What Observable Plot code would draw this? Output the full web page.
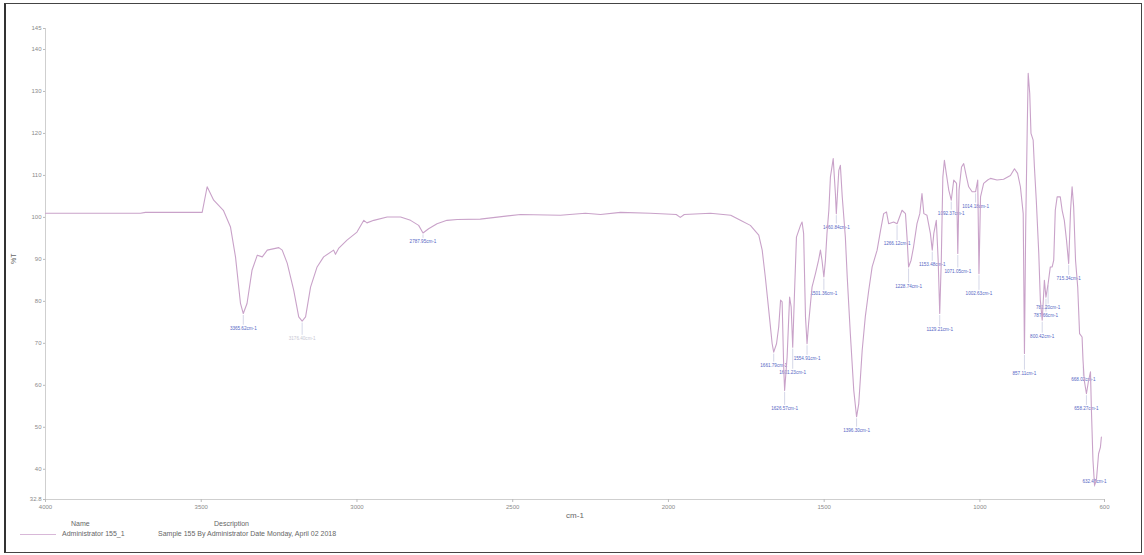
<!DOCTYPE html>
<html><head><meta charset="utf-8">
<script src="https://cdn.jsdelivr.net/npm/d3@7"></script>
<script src="https://cdn.jsdelivr.net/npm/@observablehq/plot@0.6"></script>
<style>
body{margin:0;background:#fff;font-family:"Liberation Sans",Arial,sans-serif;}
#wrap{position:relative;width:1144px;height:555px;overflow:hidden;background:#fff;}
#frame{position:absolute;left:4px;top:3px;width:1138px;height:550px;border:1px solid #444;border-left:2px solid #333;box-sizing:border-box;pointer-events:none;}
#chart{position:absolute;left:0;top:0;}
.lg{position:absolute;font-size:7px;color:#666;white-space:nowrap;line-height:8px;}
#lgline{position:absolute;left:20px;top:534px;width:36px;height:0;border-top:1px solid #d8b8d8;}
</style></head><body>
<div id="wrap"><div id="chart"></div><div id="frame"></div>
<div class="lg" style="left:71px;top:520px">Name</div>
<div class="lg" style="left:214px;top:520px">Description</div>
<div id="lgline"></div>
<div class="lg" style="left:62px;top:530px">Administrator 155_1</div>
<div class="lg" style="left:158px;top:530px">Sample 155 By Administrator Date Monday, April 02 2018</div>
</div>
<script>
// Spectrum (wavenumber cm-1, %T)
const wavenumbers = [4000,3695,3679,3497,3481,3460,3429,3406,3390,3374,3365,3353,3337,3320,3304,3288,3251,3240,3224,3203,3187,3176,3165,3149,3128,3107,3075,3069,3059,3032,3000,2978,2968,2946,2903,2860,2828,2802,2788,2770,2743,2711,2678,2604,2475,2347,2267,2218,2154,2058,1975,1962,1949,1865,1800,1769,1737,1710,1699,1689,1678,1667,1662,1653,1646,1640,1635,1630,1627,1619,1611,1606,1601,1595,1589,1576,1571,1566,1560,1555,1550,1539,1528,1518,1512,1507,1501,1496,1491,1485,1480,1471,1464,1461,1453,1448,1442,1432,1426,1416,1405,1396,1389,1378,1368,1357,1346,1330,1319,1309,1300,1293,1277,1266,1250,1239,1234,1229,1221,1213,1202,1193,1186,1180,1170,1159,1153,1148,1140,1134,1129,1124,1119,1114,1108,1100,1092,1084,1075,1071,1067,1059,1052,1043,1036,1025,1014,1007,1003,998,988,975,966,945,924,902,889,879,870,861,857,853,848,845,840,836,829,825,819,811,806,800,793,788,781,774,768,763,758,752,742,736,729,722,715,709,704,699,693,686,680,672,669,665,658,651,645,642,637,632,626,619,613,610];
const transmittance = [101.0,101.0,101.2,101.2,107.3,104.1,101.7,97.7,90.6,79.5,77.1,79.5,87.4,91.0,90.6,92.2,92.8,92.2,89.1,82.6,76.3,75.3,76.3,83.4,88.2,90.6,92.2,91.2,92.6,94.6,96.5,99.3,98.7,99.3,100.1,100.1,99.3,98.1,96.3,97.3,98.5,99.3,99.5,99.6,100.7,100.5,101.0,100.7,101.2,101.0,100.7,100.0,100.7,101.0,100.5,99.3,98.1,95.8,92.2,85.8,77.9,69.9,67.9,69.9,73.9,80.3,79.9,64.4,58.8,66.7,81.0,78.7,69.1,82.6,95.3,98.1,98.9,96.2,76.3,69.9,74.7,83.4,86.6,89.8,92.2,89.8,85.8,89.8,96.2,101.7,109.6,114.0,105.7,100.9,111.2,112.4,104.9,95.3,85.8,72.3,58.8,52.5,55.6,68.3,76.3,82.6,88.2,92.2,96.9,100.9,101.3,98.5,98.9,98.5,101.7,100.9,95.3,88.2,89.8,93.0,98.5,100.9,105.7,100.9,100.5,96.2,92.2,96.2,99.3,89.8,77.1,89.8,109.6,113.6,110.5,106.5,104.1,108.9,108.1,91.4,106.5,112.0,112.8,109.6,107.3,106.1,106.1,108.9,86.6,104.9,108.1,108.9,109.3,108.9,109.1,110.0,111.6,110.5,107.3,100.9,67.6,97.7,121.6,134.3,129.5,120.0,118.4,112.0,104.1,91.4,80.3,75.5,85.0,81.0,84.2,88.2,88.2,89.8,101.7,104.9,104.9,101.7,99.3,94.6,89.0,101.7,107.3,102.5,89.8,83.4,72.3,71.5,66.0,61.2,58.0,61.2,63.2,54.1,42.1,36.2,37.4,43.7,45.3,47.7];

// Peak annotations
const peakWavenumbers = [3365,3176,2788,1662,1601,1627,1555,1501,1461,1396,1266,1229,1153,1129,1092,1071,1003,1014,857,800,788,781,715,668,658,632];
const peakLabelLevels = [73.6,71.2,94.3,64.8,63.1,54.5,66.4,81.9,97.7,49.3,93.8,83.6,88.8,73.3,101.0,87.2,81.9,102.7,62.9,71.7,76.7,78.6,85.5,61.4,54.5,37.1];
const peakLabels = ["3365.62cm-1","3176.40cm-1","2787.95cm-1","1661.79cm-1","1601.23cm-1","1626.57cm-1","1554.91cm-1","1501.36cm-1","1460.84cm-1","1396.30cm-1","1266.12cm-1","1228.74cm-1","1153.48cm-1","1129.21cm-1","1092.37cm-1","1071.05cm-1","1002.63cm-1","1014.18cm-1","857.11cm-1","800.42cm-1","787.66cm-1","781.20cm-1","715.34cm-1","668.02cm-1","658.27cm-1","632.45cm-1"];

// Axis ticks
const xTicks = [4000,3500,3000,2500,2000,1500,1000,600];
const yTicks = [32.8,40,50,60,70,80,90,100,110,120,130,140,145];
const xDomain = [4000,600];
const yDomain = [32.8,145];

const spectrum = wavenumbers.map((w,i)=>({wn:w, t:transmittance[i]}));
const asc = spectrum.slice().sort((a,b)=>a.wn-b.wn);
const interp = d3.scaleLinear().domain(asc.map(d=>d.wn)).range(asc.map(d=>d.t));
const peaks = peakWavenumbers.map((w,i)=>({wn:w, t:interp(w), ly:peakLabelLevels[i], label:peakLabels[i], faint: i===1}));

const lineColor = "#c9a2c9";
const plot = Plot.plot({
  width: 1144, height: 520,
  marginLeft: 45, marginRight: 40, marginTop: 28, marginBottom: 21,
  style: {fontFamily: "Liberation Sans, Arial, sans-serif", background: "transparent"},
  x: {domain: xDomain, ticks: xTicks},
  y: {domain: yDomain, ticks: yTicks},
  marks: [
    Plot.ruleY([yDomain[0]], {stroke: "#cfcfcf", strokeWidth: 1}),
    Plot.ruleX([xDomain[0]], {stroke: "#cfcfcf", strokeWidth: 1}),
    Plot.axisX({ticks: xTicks, tickSize: 3, tickPadding: 2, fontSize: 6, color: "#8a8a8a", stroke: "#bbb", label: null, tickFormat: d => String(d)}),
    Plot.axisY({ticks: yTicks, tickSize: 2, tickPadding: 2, fontSize: 6, color: "#8a8a8a", stroke: "#bbb", label: null, tickFormat: d => String(d)}),
    Plot.text(["cm-1"], {frameAnchor: "bottom", dy: 18, fontSize: 8, fill: "#666"}),
    Plot.text(["%T"], {frameAnchor: "left", dx: -32, rotate: -90, fontSize: 7, fill: "#666"}),
    Plot.ruleX(peaks, {x: "wn", y1: "t", y2: "ly", stroke: "#b8bcd8", strokeWidth: 0.6, insetTop: 2, insetBottom: 3}),
    Plot.text(peaks, {x: "wn", y: "ly", text: "label", fontSize: 4.6, fill: d => d.faint ? "#c8c8d4" : "#5566c4", textAnchor: "middle"}),
    Plot.line(spectrum, {x: "wn", y: "t", stroke: lineColor, strokeWidth: 1.1})
  ]
});
document.getElementById("chart").appendChild(plot);
</script>
</body></html>
